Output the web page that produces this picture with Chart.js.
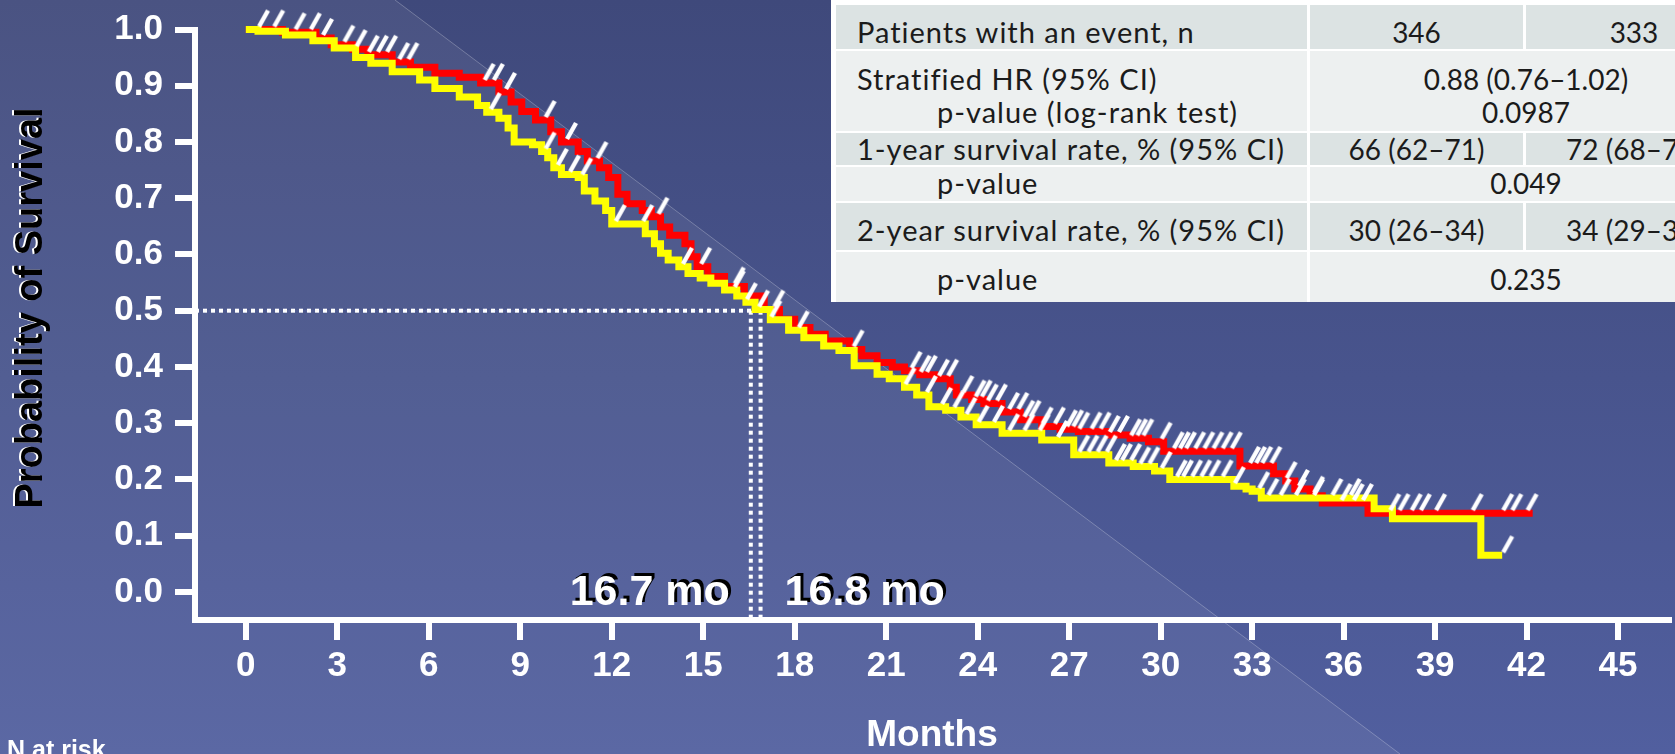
<!DOCTYPE html>
<html>
<head>
<meta charset="utf-8">
<script src="https://cdn.jsdelivr.net/npm/chart.js@4.4.0/dist/chart.umd.min.js"></script>
<style>
    html, body { margin: 0; padding: 0; width: 1675px; height: 754px; overflow: hidden; background: #4a5689; }
    #wrap { position: relative; width: 1675px; height: 754px; overflow: hidden; }
    #km { position: absolute; left: 0; top: 0; }
    .cell { position: absolute; }
    .txt { position: absolute; white-space: nowrap; font-family: Lato, "Open Sans", sans-serif; font-size: 28px; line-height: 28px; color: #1b1b1b; }
    .lbl { font-size: 29px; line-height: 29px; letter-spacing: 1px; }
</style>
</head>
<body>
<div id="wrap">
    <canvas id="km" width="1675" height="754"></canvas>
</div>
<script>
// ===== Dados =====
const MONTH_TICKS = [0, 3, 6, 9, 12, 15, 18, 21, 24, 27, 30, 33, 36, 39, 42, 45];
const SURV_TICKS = [0, 0.1, 0.2, 0.3, 0.4, 0.5, 0.6, 0.7, 0.8, 0.9, 1.0];

// braço vermelho (mediana 16.8 mo)
const RED_T = [0, 1.2, 2.3, 2.8, 3.5, 4.0, 4.8, 5.4, 6.2, 7.0, 7.7, 8.3, 8.7, 9.05, 9.5, 10.0, 10.35, 10.9, 11.2, 11.6,
    11.9, 12.2, 12.5, 13.0, 13.3, 13.6, 13.9, 14.4, 14.6, 14.8, 15.15, 15.7, 16.35, 17.0, 17.5, 18.0, 18.5, 19.0, 19.8, 20.2,
    20.7, 21.2, 21.6, 22.1, 22.6, 23.1, 23.3, 23.8, 24.2, 24.8, 25.4, 26.1, 26.7, 27.3, 28.3, 29.0, 29.6, 30.1, 32.6, 33.7,
    34.1, 34.4, 34.9, 35.3, 36.8, 42.2];
const RED_S = [1.0, 0.995, 0.985, 0.973, 0.965, 0.955, 0.942, 0.933, 0.922, 0.915, 0.905, 0.889, 0.871, 0.854, 0.839, 0.818, 0.800, 0.783, 0.766, 0.754,
    0.737, 0.707, 0.690, 0.678, 0.667, 0.649, 0.634, 0.619, 0.596, 0.578, 0.561, 0.543, 0.526, 0.502, 0.485, 0.470, 0.458, 0.446, 0.431, 0.420,
    0.408, 0.400, 0.393, 0.386, 0.379, 0.364, 0.350, 0.342, 0.335, 0.320, 0.306, 0.294, 0.289, 0.285, 0.279, 0.273, 0.267, 0.250, 0.224, 0.210,
    0.197, 0.183, 0.171, 0.158, 0.140, 0.140];

// braço amarelo (mediana 16.7 mo)
const YELLOW_T = [0, 0.4, 1.3, 2.2, 2.9, 3.6, 4.1, 4.8, 5.7, 6.2, 7.0, 7.6, 7.9, 8.3, 8.6, 8.8, 9.4, 9.7, 9.9, 10.1,
    10.35, 10.9, 11.1, 11.45, 11.8, 12.0, 13.1, 13.4, 13.6, 13.85, 14.2, 14.5, 14.9, 15.25, 15.7, 16.1, 16.4, 16.7, 17.2, 17.8,
    18.3, 18.95, 19.45, 19.95, 20.7, 21.1, 21.6, 22.0, 22.4, 22.95, 23.45, 23.95, 24.8, 26.1, 27.15, 28.3, 29.1, 29.8, 30.3, 32.4,
    32.8, 33.0, 33.3, 37.0, 37.6, 40.5, 41.2];
const YELLOW_S = [1.0, 0.997, 0.990, 0.980, 0.967, 0.950, 0.940, 0.925, 0.910, 0.895, 0.880, 0.865, 0.853, 0.842, 0.825, 0.800, 0.795, 0.783, 0.772, 0.754,
    0.742, 0.737, 0.713, 0.695, 0.678, 0.654, 0.637, 0.619, 0.602, 0.590, 0.578, 0.566, 0.558, 0.549, 0.537, 0.526, 0.515, 0.502, 0.484, 0.465,
    0.452, 0.437, 0.429, 0.402, 0.387, 0.379, 0.364, 0.350, 0.329, 0.323, 0.311, 0.297, 0.282, 0.270, 0.244, 0.229, 0.223, 0.215, 0.200, 0.188,
    0.183, 0.179, 0.167, 0.148, 0.130, 0.065, 0.065];

// censuras (meses)
const RED_CENSOR_T = [0.4, 0.9, 1.6, 2.1, 2.5, 3.2, 3.6, 4.0, 4.3, 4.6, 5.0, 5.3, 7.8, 8.1, 8.5, 9.8, 10.5, 11.5, 13.5, 14.9,
    16.0, 17.3, 19.9, 21.8, 22.1, 22.3, 22.7, 23.0, 23.5, 23.9, 24.1, 24.3, 24.6, 25.0, 25.3, 25.5, 25.7, 26.1, 26.5, 26.9,
    27.1, 27.3, 27.7, 28.0, 28.3, 28.6, 29.0, 29.2, 29.4, 30.0, 30.4, 30.6, 30.8, 31.1, 31.4, 31.7, 32.0, 32.3, 32.9, 33.1,
    33.3, 33.6, 34.1, 34.5, 35.0, 35.9, 36.3, 36.6, 37.5, 37.8, 38.2, 38.5, 39.0, 40.2, 41.2, 41.5, 42.0];
const YELLOW_CENSOR_T = [8.0, 9.8, 10.2, 10.6, 11.0, 12.1, 13.0, 14.3, 16.0, 16.4, 16.8, 17.2, 18.1, 21.6, 22.3, 22.8, 23.2, 23.6, 24.0, 24.5,
    25.0, 25.5, 26.0, 26.6, 27.3, 27.6, 27.9, 28.2, 28.5, 28.7, 29.0, 29.3, 29.6, 30.0, 30.5, 30.7, 31.0, 31.3, 31.6, 32.0,
    32.4, 33.2, 33.5, 33.9, 34.4, 35.0, 35.6, 36.2, 41.2];

// medianas
const MEDIAN_LABELS = ['16.7 mo', '16.8 mo'];
const GUIDE_X = [16.56, 16.88];
const GUIDE_Y = 0.5;

// ===== Tabela =====
const TABLE_LABELS = [
    ['Patients with an event, n'],
    ['Stratified HR (95% CI)', 'p-value (log-rank test)'],
    ['1-year survival rate, % (95% CI)'],
    ['p-value'],
    ['2-year survival rate, % (95% CI)'],
    ['p-value']
];
const TABLE_INDENT = [[0], [0, 1], [0], [1], [0], [1]];
const TABLE_COL2 = ['346', null, '66 (62–71)', null, '30 (26–34)', null];
const TABLE_COL3 = ['333', null, '72 (68–76)', null, '34 (29–39)', null];
const TABLE_MERGED = [null, ['0.88 (0.76–1.02)', '0.0987'], null, ['0.049'], null, ['0.235']];

// ===== Layout da tabela (px) =====
const ROW_BOX = [[5, 49], [51, 131], [133, 165], [167, 201], [203, 250], [252, 302]];
const ROW_BASE = [[43], [90, 123], [160], [194], [241], [290]];
const COL_LABEL = [836, 1307], COL_2 = [1310, 1523], COL_3 = [1526, 1742];

function addDiv(cls, css, text) {
    const d = document.createElement('div');
    d.className = cls;
    Object.assign(d.style, css);
    if (text) d.textContent = text;
    document.getElementById('wrap').appendChild(d);
    return d;
}

function montarTabela() {
    addDiv('cell', { left: '831px', top: '0px', width: (COL_3[1] - 831) + 'px', height: '302px', background: '#ffffff' });
    ROW_BOX.forEach((box, i) => {
        const bg = i % 2 === 0 ? '#dce3e3' : '#edf0f0';
        const top = box[0] + 'px', h = (box[1] - box[0]) + 'px';
        addDiv('cell', { left: COL_LABEL[0] + 'px', top, width: (COL_LABEL[1] - COL_LABEL[0]) + 'px', height: h, background: bg });
        if (TABLE_MERGED[i]) {
            addDiv('cell', { left: COL_2[0] + 'px', top, width: (COL_3[1] - COL_2[0]) + 'px', height: h, background: bg });
        } else {
            addDiv('cell', { left: COL_2[0] + 'px', top, width: (COL_2[1] - COL_2[0]) + 'px', height: h, background: bg });
            addDiv('cell', { left: COL_3[0] + 'px', top, width: (COL_3[1] - COL_3[0]) + 'px', height: h, background: bg });
        }
        TABLE_LABELS[i].forEach((t, j) => {
            const x = TABLE_INDENT[i][j] ? 937 : 857;
            addDiv('txt lbl', { left: x + 'px', top: (ROW_BASE[i][j] - 0.887 * 29) + 'px' }, t);
        });
        const centro = (text, a, b, base) => {
            addDiv('txt', { left: a + 'px', width: (b - a) + 'px', textAlign: 'center', top: (base - 0.887 * 28) + 'px' }, text);
        };
        if (TABLE_MERGED[i]) {
            TABLE_MERGED[i].forEach((t, j) => centro(t, COL_2[0], COL_3[1], ROW_BASE[i][j]));
        } else {
            centro(TABLE_COL2[i], COL_2[0], COL_2[1], ROW_BASE[i][0]);
            centro(TABLE_COL3[i], COL_3[0], COL_3[1], ROW_BASE[i][0]);
        }
    });
}

// ===== Helpers =====
function pontos(T, S) {
    return T.map((t, i) => ({ x: t, y: S[i] }));
}

function valorNoTempo(T, S, t) {
    let v = S[0];
    for (let i = 0; i < T.length; i++) if (T[i] <= t) v = S[i];
    return v;
}

function censuras(CT, T, S) {
    return CT.map(t => ({ x: t, y: valorNoTempo(T, S, t) }));
}

function marcaCensura() {
    const c = document.createElement('canvas');
    c.width = 50; c.height = 50;
    const g = c.getContext('2d');
    g.strokeStyle = '#ffffff';
    g.lineWidth = 4.5;
    g.beginPath();
    g.moveTo(26, 22);
    g.lineTo(35, 6);
    g.stroke();
    return c;
}

// ===== Plugins =====
const fundoPlugin = {
    id: 'fundo',
    beforeDraw(chart) {
        const { ctx, width, height } = chart;
        ctx.save();
        const g = ctx.createLinearGradient(0, 0, 0, height);
        g.addColorStop(0, '#3f497b');
        g.addColorStop(1, '#515f9f');
        ctx.fillStyle = g;
        ctx.fillRect(0, 0, width, height);
        ctx.beginPath();
        ctx.moveTo(0, 0); ctx.lineTo(395, 0); ctx.lineTo(1400, height); ctx.lineTo(0, height);
        ctx.closePath();
        ctx.fillStyle = 'rgba(255,255,255,0.06)';
        ctx.fill();
        ctx.beginPath();
        ctx.moveTo(395, 0); ctx.lineTo(1400, height);
        ctx.strokeStyle = 'rgba(255,255,255,0.25)';
        ctx.lineWidth = 1;
        ctx.stroke();
        ctx.restore();
    }
};

const textosPlugin = {
    id: 'textos',
    afterDraw(chart) {
        const { ctx } = chart;
        const xs = chart.scales.x, ys = chart.scales.y;
        ctx.save();
        // título do eixo Y
        ctx.translate(42, 308);
        ctx.rotate(-Math.PI / 2);
        ctx.font = 'bold 38px "Liberation Sans", Arial, sans-serif';
        ctx.textAlign = 'center';
        ctx.textBaseline = 'alphabetic';
        ctx.shadowColor = '#ffffff';
        ctx.shadowOffsetX = -2;
        ctx.shadowOffsetY = 0;
        ctx.fillStyle = '#000000';
        ctx.fillText('Probability of Survival', 0, 0);
        ctx.restore();

        // medianas
        ctx.save();
        ctx.font = 'bold 43px "Liberation Sans", Arial, sans-serif';
        ctx.fillStyle = '#ffffff';
        ctx.shadowColor = '#000000';
        ctx.shadowOffsetX = 3;
        ctx.shadowOffsetY = -3;
        const base = ys.getPixelForValue(0) + 13;
        ctx.textAlign = 'right';
        ctx.fillText(MEDIAN_LABELS[0], xs.getPixelForValue(GUIDE_X[0]) - 21, base);
        ctx.textAlign = 'left';
        ctx.fillText(MEDIAN_LABELS[1], xs.getPixelForValue(GUIDE_X[1]) + 24, base);
        ctx.restore();

        // N at risk
        ctx.save();
        ctx.font = 'bold 25px "Liberation Sans", Arial, sans-serif';
        ctx.fillStyle = '#ffffff';
        ctx.textAlign = 'left';
        ctx.fillText('N at risk', 7, 758);
        ctx.restore();
    }
};

// ===== Gráfico =====
const X_MIN = -1.666, X_MAX = 46.67, Y_MIN = -0.05, Y_MAX = 1.0;
const FONTE = '"Liberation Sans", Arial, sans-serif';
const slash = marcaCensura();

function guia(data) {
    return {
        data, borderColor: '#ffffff', borderWidth: 4, borderDash: [4, 4],
        pointRadius: 0, fill: false, clip: false
    };
}

function gerarGrafico() {
    const ctx = document.getElementById('km').getContext('2d');
    window.kmChart = new Chart(ctx, {
        type: 'line',
        data: {
            datasets: [
                { data: censuras(YELLOW_CENSOR_T, YELLOW_T, YELLOW_S), showLine: false, pointStyle: slash, pointRadius: 5, clip: false },
                { data: censuras(RED_CENSOR_T, RED_T, RED_S), showLine: false, pointStyle: slash, pointRadius: 5, clip: false },
                { data: pontos(YELLOW_T, YELLOW_S), borderColor: '#ffff00', borderWidth: 7, stepped: true, pointRadius: 0, fill: false, clip: false },
                { data: pontos(RED_T, RED_S), borderColor: '#ff0000', borderWidth: 7, stepped: true, pointRadius: 0, fill: false, clip: false },
                guia([{ x: X_MIN, y: GUIDE_Y }, { x: GUIDE_X[1], y: GUIDE_Y }]),
                guia([{ x: GUIDE_X[0], y: GUIDE_Y }, { x: GUIDE_X[0], y: Y_MIN }]),
                guia([{ x: GUIDE_X[1], y: GUIDE_Y }, { x: GUIDE_X[1], y: Y_MIN }])
            ]
        },
        options: {
            responsive: false,
            animation: false,
            events: [],
            layout: { padding: { top: 23, left: 0, right: 0, bottom: 0 } },
            plugins: { legend: { display: false }, tooltip: { enabled: false } },
            scales: {
                x: {
                    type: 'linear', min: X_MIN, max: X_MAX,
                    afterBuildTicks: s => { s.ticks = MONTH_TICKS.map(v => ({ value: v })); },
                    afterFit: s => { s.height = 134; },
                    border: { display: true, color: '#ffffff', width: 6 },
                    grid: { drawOnChartArea: false, drawTicks: true, tickLength: 20, color: '#ffffff', lineWidth: 6 },
                    ticks: {
                        color: '#ffffff', padding: 9, maxRotation: 0, autoSkip: false,
                        font: { family: FONTE, weight: 'bold', size: 35, lineHeight: 1 }
                    },
                    title: {
                        display: true, text: 'Months', color: '#ffffff',
                        font: { family: FONTE, weight: 'bold', size: 37, lineHeight: 1 },
                        padding: { top: 0, bottom: 0 }
                    }
                },
                y: {
                    type: 'linear', min: Y_MIN, max: Y_MAX,
                    afterBuildTicks: s => { s.ticks = SURV_TICKS.map(v => ({ value: v })); },
                    afterFit: s => { s.width = 195; },
                    border: { display: true, color: '#ffffff', width: 6 },
                    grid: { drawOnChartArea: false, drawTicks: true, tickLength: 20, color: '#ffffff', lineWidth: 6 },
                    ticks: {
                        color: '#ffffff', padding: 12, autoSkip: false,
                        callback: v => Number(v).toFixed(1),
                        font: { family: FONTE, weight: 'bold', size: 35, lineHeight: 1 }
                    }
                }
            }
        },
        plugins: [fundoPlugin, textosPlugin]
    });
}

montarTabela();
gerarGrafico();
</script>
</body>
</html>
